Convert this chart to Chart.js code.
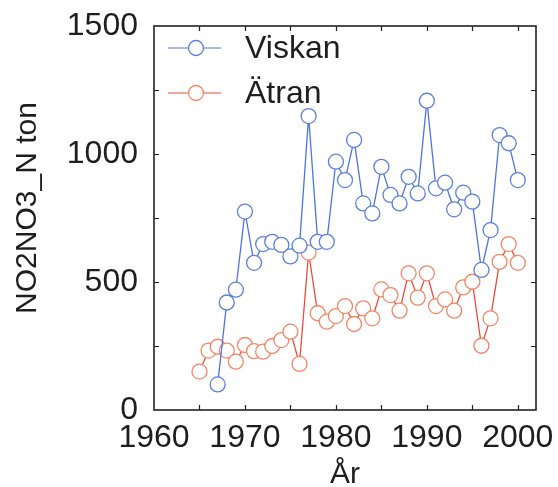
<!DOCTYPE html>
<html>
<head>
<meta charset="utf-8">
<script src="https://cdn.jsdelivr.net/npm/chart.js@4/dist/chart.umd.min.js"></script>
<style>
  html, body { margin: 0; padding: 0; background: #ffffff; }
  #wrap { width: 558px; height: 487px; position: relative; }
</style>
</head>
<body>
<div id="wrap"><canvas id="c" width="558" height="487"></canvas></div>
<script>
// ---- data ----
const viskanYears = [1967,1968,1969,1970,1971,1972,1973,1974,1975,1976,1977,1978,1979,1980,1981,1982,1983,1984,1985,1986,1987,1988,1989,1990,1991,1992,1993,1994,1995,1996,1997,1998,1999,2000];
const viskanValues = [100,420,470,775,575,648,657,645,600,642,1148,657,657,970,898,1055,807,768,950,840,807,911,846,1208,866,888,784,849,814,547,703,1074,1042,898];
const atranYears = [1965,1966,1967,1968,1969,1970,1971,1972,1973,1974,1975,1976,1977,1978,1979,1980,1981,1982,1983,1984,1985,1986,1987,1988,1989,1990,1991,1992,1993,1994,1995,1996,1997,1998,1999,2000];
const atranValues = [150,232,247,232,189,254,230,228,250,273,306,180,615,378,345,367,406,336,397,358,471,449,388,534,439,534,406,432,388,479,501,251,358,579,648,575];
const xTickLabels = [1960,1970,1980,1990,2000];
const xMinorTicks = [1965,1970,1975,1980,1985,1990,1995,2000];
const yTickLabels = [0,500,1000,1500];
const yMinorTicks = [250,500,750,1000,1250];
const seriesNames = ['Viskan','Ätran'];
const xTitle = 'År';
const yTitle = 'NO2NO3_N ton';

const blue = '#5b80e0';
const blueLine = '#4f74dc';
const redLine = '#ec4a3c';
const redPoint = '#f28868';
const FONT = 'Liberation Sans, Arial, Helvetica, sans-serif';
const TXT = '#1e1e1e';

const toXY = (xs, ys) => xs.map((x, i) => ({x: x, y: ys[i]}));

const frame = {
  id: 'frame',
  afterDatasetsDraw(chart) {
    const ctx = chart.ctx, a = chart.chartArea;
    const xs = chart.scales.x, ys = chart.scales.y;
    const tl = 5;
    ctx.save();
    ctx.strokeStyle = '#222';
    ctx.lineWidth = 1.2;
    xMinorTicks.forEach(v => {
      const px = Math.round(xs.getPixelForValue(v)) + 0.5;
      ctx.beginPath();
      ctx.moveTo(px, a.bottom); ctx.lineTo(px, a.bottom - tl);
      ctx.moveTo(px, a.top); ctx.lineTo(px, a.top + tl);
      ctx.stroke();
    });
    yMinorTicks.forEach(v => {
      const py = Math.round(ys.getPixelForValue(v)) + 0.5;
      ctx.beginPath();
      ctx.moveTo(a.left, py); ctx.lineTo(a.left + tl, py);
      ctx.moveTo(a.right, py); ctx.lineTo(a.right - tl, py);
      ctx.stroke();
    });
    ctx.lineWidth = 1.6;
    ctx.strokeRect(a.left, a.top, a.right - a.left, a.bottom - a.top);

    // y axis title
    ctx.save();
    ctx.translate(28, 208);
    ctx.rotate(-Math.PI / 2);
    ctx.font = '30px ' + FONT;
    ctx.fillStyle = TXT;
    ctx.textAlign = 'center';
    ctx.textBaseline = 'middle';
    ctx.fillText(yTitle, 0, 0);
    ctx.restore();

    // legend
    const items = [
      {name: seriesNames[0], line: blueLine, pt: blue, y: 48},
      {name: seriesNames[1], line: redLine, pt: redPoint, y: 93}
    ];
    ctx.font = '32px ' + FONT;
    ctx.textBaseline = 'middle';
    ctx.textAlign = 'left';
    items.forEach(it => {
      ctx.strokeStyle = it.line;
      ctx.lineWidth = 1;
      ctx.beginPath();
      ctx.moveTo(168, it.y); ctx.lineTo(221, it.y);
      ctx.stroke();
      ctx.beginPath();
      ctx.arc(196, it.y, 7.5, 0, Math.PI * 2);
      ctx.fillStyle = '#fff';
      ctx.fill();
      ctx.strokeStyle = it.pt;
      ctx.lineWidth = 1.3;
      ctx.stroke();
      ctx.fillStyle = TXT;
      ctx.fillText(it.name, 245, it.y + 1);
    });
    ctx.restore();
  }
};

new Chart(document.getElementById('c'), {
  type: 'line',
  data: {
    datasets: [
      {
        label: seriesNames[0],
        data: toXY(viskanYears, viskanValues),
        borderColor: blueLine,
        borderWidth: 1.3,
        pointRadius: 7.5,
        pointBorderWidth: 1.3,
        pointBorderColor: blue,
        pointBackgroundColor: '#ffffff',
        tension: 0
      },
      {
        label: seriesNames[1],
        data: toXY(atranYears, atranValues),
        borderColor: redLine,
        borderWidth: 1.3,
        pointRadius: 7.5,
        pointBorderWidth: 1.3,
        pointBorderColor: redPoint,
        pointBackgroundColor: '#ffffff',
        tension: 0
      }
    ]
  },
  options: {
    responsive: false,
    animation: false,
    devicePixelRatio: 1,
    layout: { padding: { top: 26, right: 22, left: 0, bottom: 0 } },
    plugins: { legend: { display: false }, tooltip: { enabled: false } },
    scales: {
      x: {
        type: 'linear',
        min: 1960, max: 2002,
        afterFit(s) { s.height = 77; s.paddingLeft = 0; s.paddingRight = 0; },
        afterBuildTicks(s) { s.ticks = xTickLabels.map(v => ({value: v})); },
        grid: { display: false, drawTicks: false },
        border: { display: false },
        ticks: { color: TXT, font: { family: FONT, size: 32 }, padding: 9, maxRotation: 0, autoSkip: false,
                 callback: v => String(v) },
        title: { display: true, text: xTitle, color: TXT, font: { family: FONT, size: 30, lineHeight: 0.8 }, padding: { top: 0, bottom: 0 } }
      },
      y: {
        min: 0, max: 1500,
        afterFit(s) { s.width = 154; s.paddingTop = 0; s.paddingBottom = 0; },
        afterBuildTicks(s) { s.ticks = yTickLabels.map(v => ({value: v})); },
        grid: { display: false, drawTicks: false },
        border: { display: false },
        ticks: { color: TXT, font: { family: FONT, size: 32 }, padding: 16, autoSkip: false,
                 callback: v => String(v) },
        title: { display: false }
      }
    }
  },
  plugins: [frame]
});
</script>
</body>
</html>
